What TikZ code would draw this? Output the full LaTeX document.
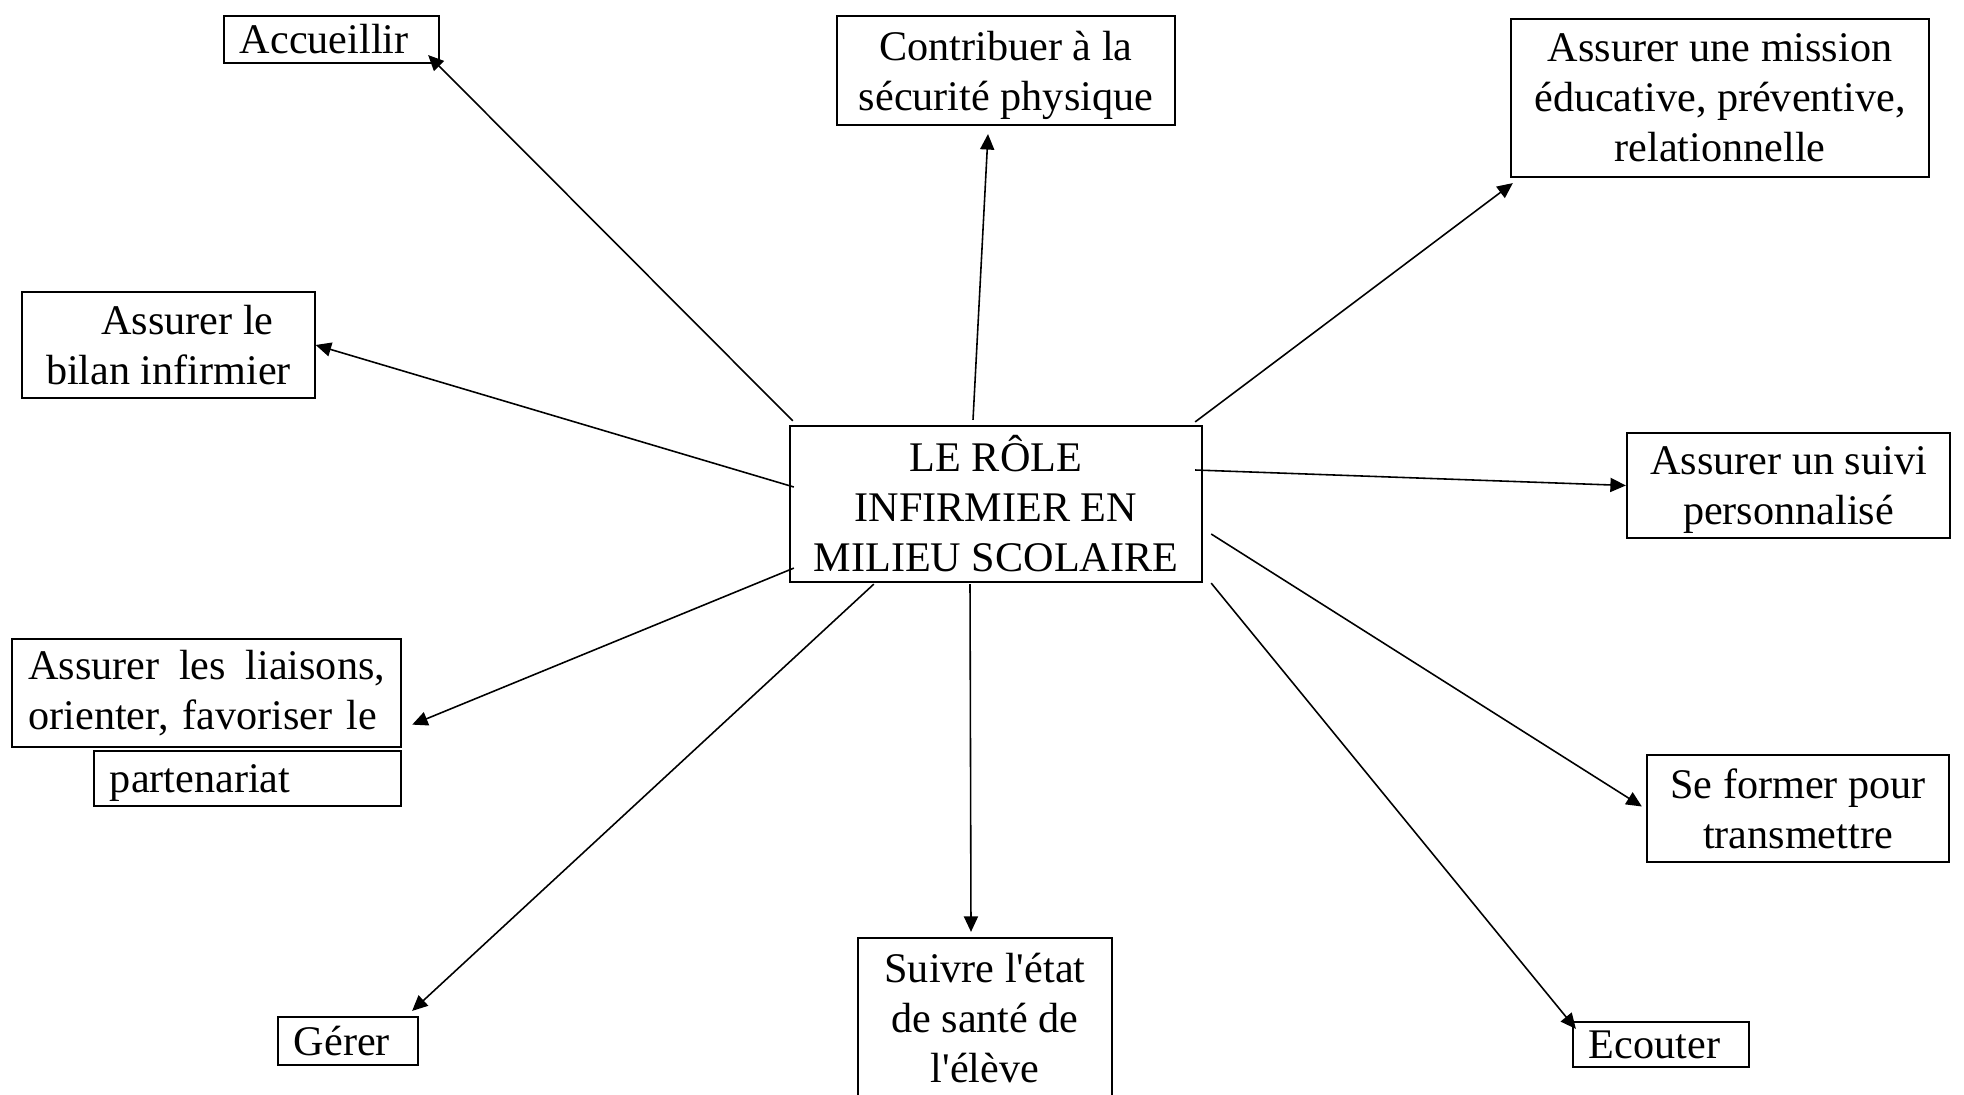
\documentclass[tikz,border=0pt]{standalone}
\usepackage{fontspec}
\setmainfont{Liberation Serif}[Ligatures=TeXOff]
\usetikzlibrary{positioning,arrows.meta}

\begin{document}
\begin{tikzpicture}[x=0.01cm,y=-0.01cm,
  boite/.style={draw, line width=0.6pt, font=\fontsize{12pt}{14.2pt}\selectfont, inner sep=0pt, align=center},
  gauche/.style={boite, align=left, inner xsep=0.16cm},
  fleche/.style={-{Triangle[length=4.4pt,width=4pt]}, line width=0.45pt}]
\useasboundingbox (0,0) rectangle (1964,1094);
\clip (0,0) rectangle (1964,1094);

% Central box
\node[boite, minimum width=4.12cm, minimum height=1.56cm] (role) at (996,504) {LE RÔLE\\INFIRMIER EN\\MILIEU SCOLAIRE};

% Boxes
\node[gauche, text width=1.83cm, minimum height=0.47cm] (acc) at (331.5,39.5) {Accueillir};
\node[boite, text depth=0pt, minimum width=3.38cm, minimum height=1.09cm] (contrib) at (1006,70.5) {Contribuer à la\\sécurité physique};
\node[boite, minimum width=4.18cm, minimum height=1.58cm] (mission) at (1720,98) {Assurer une mission\\éducative, préventive,\\relationnelle};
\node[boite, minimum width=2.92cm, minimum height=1.06cm] (bilan) at (168.5,345) {\hspace*{0.38cm}Assurer le\\bilan infirmier};
\node[boite, text depth=0pt, minimum width=3.23cm, minimum height=1.05cm] (suivi) at (1788.5,485.5) {Assurer un suivi\\personnalisé};
\node[gauche, text width=3.565cm, minimum height=1.075cm] (liaisons) at (206.8,692.8) {Assurer\hfill les\hfill liaisons,\\orienter, favoriser le};
\node[gauche, text depth=0pt, text width=2.75cm, minimum height=0.55cm, anchor=north east] (partenariat) at ([shift={(0,2.5)}]liaisons.south east) {partenariat};
\node[boite, minimum width=3.02cm, minimum height=1.07cm] (former) at (1798,808.5) {Se former pour\\transmettre};
\node[gauche, text width=1.08cm, minimum height=0.48cm] (gerer) at (348,1041) {Gérer};
\node[boite, minimum width=2.54cm, minimum height=1.60cm] (suivre) at (985,1018) {Suivre l'état\\de santé de\\l'élève};
\node[gauche, text width=1.44cm, minimum height=0.45cm] (ecouter) at (1661,1044.5) {Ecouter};

% Arrows
\draw[fleche] ([shift={(4,-4)}]role.north west) -- ([shift={(-12,-9)}]acc.south east);
\draw[fleche] ([shift={(-23,-5)}]role.north) -- ([shift={(-18,8)}]contrib.south);
\draw[fleche] ([shift={(-8,-3)}]role.north east) -- ([shift={(3,5)}]mission.south west);
\draw[fleche] ([shift={(5,-17)}]role.west) -- (bilan.east);
\draw[fleche] ([shift={(-8,-34)}]role.east) -- (suivi.west);
\draw[fleche] ([shift={(5,-15)}]role.south west) -- ([shift={(10,-23)}]liaisons.south east);
\draw[fleche] ([shift={(8,30)}]role.east) -- ([shift={(-4,-2)}]former.west);
\draw[fleche] ([shift={(85,1)}]role.south west) -- ([shift={(-7,-5)}]gerer.north east);
\draw[fleche] ([shift={(-26,1)}]role.south) -- ([shift={(-14,-5)}]suivre.north);
\draw[fleche] ([shift={(8,0)}]role.south east) -- ([shift={(4,8)}]ecouter.north west);
\end{tikzpicture}
\end{document}
